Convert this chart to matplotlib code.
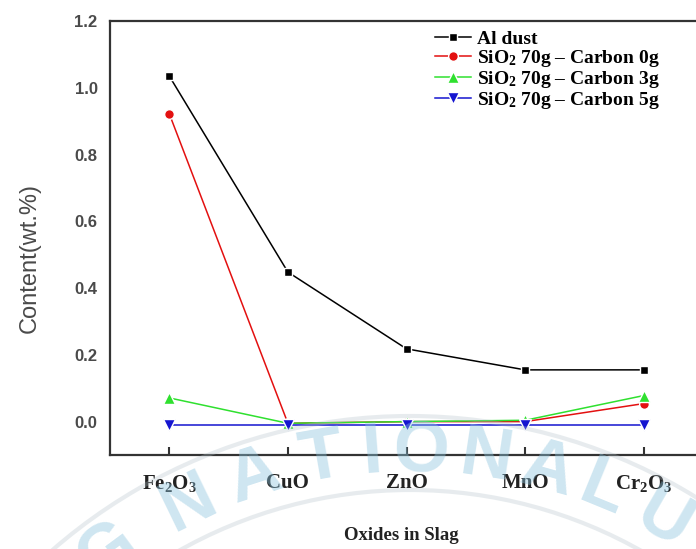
import numpy as np
import matplotlib
matplotlib.use("Agg")
import matplotlib.pyplot as plt
from matplotlib.patches import Arc

# Oxide content in slag for each charge condition
oxides = ["Fe$_2$O$_3$", "CuO", "ZnO", "MnO", "Cr$_2$O$_3$"]
al_dust = [1.035, 0.448, 0.218, 0.155, 0.155]
carbon_0g = [0.922, -0.005, 0.0, 0.0, 0.054]
carbon_3g = [0.071, -0.005, 0.0, 0.004, 0.078]
carbon_5g = [-0.009, -0.009, -0.009, -0.009, -0.009]

series_labels = [
    "Al dust",
    "SiO$_2$ 70g – Carbon 0g",
    "SiO$_2$ 70g – Carbon 3g",
    "SiO$_2$ 70g – Carbon 5g",
]
y_ticks = [0.0, 0.2, 0.4, 0.6, 0.8, 1.0, 1.2]

plt.rcParams["mathtext.fontset"] = "custom"
plt.rcParams["mathtext.rm"] = "Liberation Serif:bold"
plt.rcParams["mathtext.bf"] = "Liberation Serif:bold"
plt.rcParams["mathtext.it"] = "Liberation Serif:bold"

W, H = 696, 549
fig = plt.figure(figsize=(W / 100, H / 100), dpi=100)
ax = fig.add_axes([110 / W, (H - 455) / H, (703 - 110) / W, (455 - 21) / H])

x = np.arange(len(oxides))
styles = [
    (al_dust, "black", "s", 5.5),
    (carbon_0g, "#e31010", "o", 7),
    (carbon_3g, "#2fe02f", "^", 8),
    (carbon_5g, "#1515d0", "v", 8),
]
for i, (vals, col, mk, ms) in enumerate(styles):
    ax.plot(x, vals, color=col, lw=1.1, marker=mk, ms=ms,
            mec="white", mew=1.0, mfc=col, label=series_labels[i],
            zorder=3 + (i == 0) + (i == 3) * 0.5)

ax.set_xlim(-0.5, 4.5)
ax.set_ylim(-0.1, 1.2)
ax.set_yticks(y_ticks)
ax.set_yticklabels([f"{v:.1f}" for v in y_ticks],
                   fontdict=dict(family="Liberation Sans", weight="bold",
                                 size=12, color="#4a4a4a"))
ax.set_xticks(x)
ax.set_xticklabels(oxides, fontdict=dict(family="Liberation Serif",
                                         weight="bold", size=15,
                                         color="#222222"))
ax.tick_params(axis="y", length=0, pad=9)
ax.tick_params(axis="x", direction="in", length=6, width=1.5,
               color="#333333", pad=13)

for side in ["left", "bottom", "top", "right"]:
    ax.spines[side].set_linewidth(1.6)
    ax.spines[side].set_color("#333333")

ax.set_ylabel("Content(wt.%)", family="Liberation Sans", size=17,
              color="#4a4a4a", va="center")
ax.yaxis.set_label_coords((30 - 110) / 593, (455 - 258) / 434)
ax.set_xlabel("Oxides in Slag", family="Liberation Serif", weight="bold",
              size=13.5, color="#222222", va="center")
ax.xaxis.set_label_coords((401 - 110) / 593, (455 - 535) / 434)

leg = ax.legend(loc="upper left", bbox_to_anchor=(0.548, 0.978),
                frameon=False,
                prop=dict(family="Liberation Serif", weight="bold", size=14),
                handlelength=1.85, handletextpad=0.3, labelspacing=0.0,
                borderaxespad=0.0, borderpad=0.0)

# faint curved institutional watermark
cx, cy, r = 410, 960, 508
letters = [("G", 108), ("N", 188), ("A", 254), ("T", 322), ("I", 372),
           ("O", 422), ("N", 486), ("A", 547), ("L", 603), ("U", 664),
           ("N", 730)]
for ch, px in letters:
    th = np.arcsin((px - cx) / r)
    ty = cy - r * np.cos(th)
    fig.text(px, H - ty, ch, transform=None, ha="center", va="center",
             rotation=-np.degrees(th), rotation_mode="anchor",
             family="Liberation Sans", weight="bold", size=52,
             color="#8cc4de", alpha=0.42, zorder=1)
for rad in (r - 38, r + 36):
    fig.add_artist(Arc((cx, H - cy), 2 * rad, 2 * rad, angle=0,
                       theta1=30, theta2=150, transform=None,
                       color="#b0c0c8", lw=3, alpha=0.3))

fig.savefig("out.png", dpi=100)
